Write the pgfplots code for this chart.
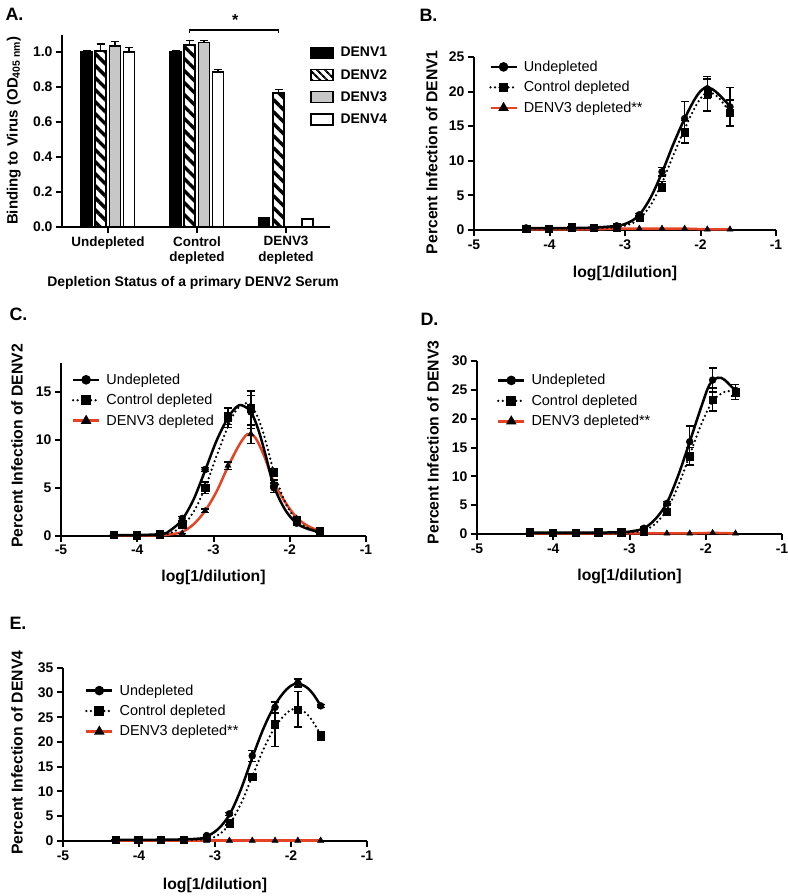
\documentclass[border=0pt]{standalone}
\usepackage{fontspec}
\setmainfont{Liberation Sans}
\usepackage{pgfplots}
\usepackage{pgfplotstable}
\pgfplotsset{compat=1.18}
\usetikzlibrary{patterns.meta}
\definecolor{dred}{RGB}{230,66,36}

\pgfplotstableread{
x u ue c ce r
-4.31 0.3 0 0.2 0 0.1
-4.01 0.2 0 0.2 0 0.1
-3.71 0.4 0 0.4 0 0.1
-3.41 0.3 0 0.3 0 0.1
-3.11 0.6 0 0.4 0 0.2
-2.81 2.2 0.2 1.8 0.3 0.2
-2.51 8.4 0.6 6.3 0.7 0.2
-2.21 16.1 2.5 14.2 1.6 0.2
-1.91 20.4 1.4 19.7 2.5 0.1
-1.61 17.8 2.8 16.9 1.9 0.1
}\tabB
\pgfplotstableread{
x u ue c ce r re
-4.31 0.1 0 0.1 0 0.05 0
-4.01 0.1 0 0.05 0 0.05 0
-3.71 0.2 0 0.15 0 0.05 0
-3.41 1.8 0.2 1.2 0.3 0.25 0
-3.11 6.9 0.2 5.0 0.6 2.6 0.2
-2.81 12.2 0.6 12.3 1.0 7.3 0.4
-2.51 12.9 1.7 13.3 1.8 10.6 1.0
-2.21 5.0 0.5 6.6 0.4 5.5 0.3
-1.91 1.3 0.2 1.6 0.2 1.8 0.2
-1.61 0.4 0 0.5 0 0.5 0
}\tabC
\pgfplotstableread{
x u ue c ce r
-4.31 0.3 0 0.3 0 0.1
-4.01 0.2 0 0.2 0 0.1
-3.71 0.2 0 0.2 0 0.1
-3.41 0.3 0 0.3 0 0.1
-3.11 0.3 0 0.3 0 0.1
-2.81 1.0 0.2 0.5 0.2 0.1
-2.51 5.3 0.3 3.8 0.4 0.1
-2.21 16.0 2.7 13.5 1.5 0.1
-1.91 26.7 2.1 23.3 2.0 0.2
-1.61 24.9 1.0 24.6 1.3 0.1
}\tabD
\pgfplotstableread{
x u ue c ce r
-4.31 0.2 0 0.2 0 0.1
-4.01 0.2 0 0.2 0 0.1
-3.71 0.3 0 0.3 0 0.1
-3.41 0.3 0 0.3 0 0.1
-3.11 1.1 0.2 0.6 0.2 0.1
-2.81 5.5 0.3 3.6 0.4 0.1
-2.51 17.2 1.1 13.0 0.6 0.1
-2.21 27.0 1.1 23.6 4.5 0.1
-1.91 31.9 0.8 26.6 3.6 0.1
-1.61 27.3 0.3 21.2 0.8 0.1
}\tabE

\pgfplotsset{
  gp/.style={
    scale only axis,
    axis x line*=bottom, axis y line*=left,
    axis line style={line width=2bp},
    every tick/.style={black, line width=2bp},
    major tick length=6bp,
    tick align=outside,
    /pgf/number format/assume math mode=true,
    tick label style={font=\fontsize{14}{16}\bfseries},
    clip=false,
  },
  dil/.style={
    gp,
    xmin=-5, xmax=-1, xtick={-5,-4,-3,-2,-1}, ymin=0,
    xlabel={log[1/dilution]},
    legend style={draw=none, fill=none, font=\fontsize{14.5}{17}\selectfont, row sep=4.5bp, inner sep=0pt,
      /tikz/every odd column/.append style={column sep=4bp}},
    legend cell align=left,
    legend image code/.code={\draw[mark repeat=2,mark phase=2,#1] plot coordinates {(0bp,0bp) (13bp,0bp) (26bp,0bp)};},
  },
  ucurve/.style={black, line width=2.5bp, smooth, tension=0.55, forget plot},
  ccurve/.style={black, line width=2.5bp, dash pattern=on 0bp off 4.5bp, line cap=round, smooth, tension=0.55, forget plot},
  rcurve/.style={dred, line width=2.5bp, smooth, tension=0.55, forget plot},
  ebar/.style={error bars/.cd, y dir=both, y explicit, error bar style={line width=1.5bp, solid, black}, error mark options={rotate=90, mark size=4bp, line width=1.5bp, solid, black}},
  umark/.style={black, only marks, mark=*, mark size=3.5bp, forget plot},
  cmark/.style={black, only marks, mark=square*, mark size=3.6bp, forget plot},
  rmark/.style={black, only marks, mark=triangle*, mark size=3.6bp, forget plot},
  ulegend/.style={black, line width=2.5bp, mark=*, mark size=3.5bp},
  clegend/.style={black, line width=2.5bp, dash pattern=on 0bp off 4.5bp, line cap=round, mark=square*, mark size=3.6bp, mark options={solid}},
  rlegend/.style={dred, line width=2.5bp, mark=triangle*, mark size=3.6bp, mark options={black, fill=black}},
}
\newcommand{\lblfont}{\fontsize{15.8}{18}\bfseries}

\begin{document}
\begin{tikzpicture}
\useasboundingbox (0,0) rectangle (788bp,-896bp);

% ---------------- Panel A ----------------
\node[anchor=west, font=\fontsize{18}{20}\bfseries] at (2bp,-14bp) {A.};
\begin{axis}[gp, at={(62bp,-227bp)}, anchor=south west, width=268bp, height=192.5bp,
  xmin=-0.517, xmax=2.494, ymin=0, ymax=1.1,
  xtick={0,1,2}, xticklabels={Undepleted, Control\\depleted, DENV3\\depleted},
  xticklabel style={align=center, font=\fontsize{13.5}{15.5}\bfseries},
  ytick={0,0.2,0.4,0.6,0.8,1.0},
  yticklabel style={/pgf/number format/.cd, fixed, fixed zerofill, precision=1},
  ylabel={Binding to Virus (OD\textsubscript{405 nm})},
  xlabel={Depletion Status of a primary DENV2 Serum},
  ylabel style={at={(-0.18,0.5)}, anchor=center, font=\fontsize{15}{17}\bfseries},
  xlabel style={at={(0.489,-0.29)}, anchor=center, font=\fontsize{14}{16}\bfseries},
  legend style={at={(0.925,0.945)}, anchor=north west, draw=none, fill=none, font=\fontsize{14}{16}\bfseries, row sep=7bp, inner sep=0pt,
    /tikz/every odd column/.append style={column sep=5bp}},
  legend cell align=left,
  legend image code/.code={\draw[#1] (0bp,-5.5bp) rectangle (22bp,5.5bp);},
  ]
\addlegendimage{fill=black, draw=black, line width=1.5bp}
\addlegendentry{DENV1}
\addlegendimage{pattern={Lines[angle=-45,distance=6bp,line width=2.6bp]}, pattern color=black, draw=black, line width=1.5bp}
\addlegendentry{DENV2}
\addlegendimage{fill=black!22, draw=black, line width=1.5bp}
\addlegendentry{DENV3}
\addlegendimage{fill=white, draw=black, line width=1.5bp}
\addlegendentry{DENV4}

\addplot[ybar, bar shift=0pt, bar width=11bp, fill=black, draw=black, line width=1.5bp, forget plot,
  error bars/.cd, y dir=plus, y explicit, error bar style={line width=1.5bp}, error mark options={rotate=90, mark size=4bp, line width=1.5bp}]
  coordinates {(-0.24,1.0) +- (0,0.006) (0.76,1.0) +- (0,0.005) (1.755,0.055) +- (0,0)};
\addplot[ybar, bar shift=0pt, bar width=11bp, pattern={Lines[angle=-45,distance=8.5bp,line width=3.4bp]}, pattern color=black, draw=black, line width=1.5bp, forget plot,
  error bars/.cd, y dir=plus, y explicit, error bar style={line width=1.5bp}, error mark options={rotate=90, mark size=4bp, line width=1.5bp}]
  coordinates {(-0.082,1.005) +- (0,0.04) (0.918,1.04) +- (0,0.025) (1.918,0.765) +- (0,0.02)};
\addplot[ybar, bar shift=0pt, bar width=11bp, fill=black!22, draw=black, line width=1.5bp, forget plot,
  error bars/.cd, y dir=plus, y explicit, error bar style={line width=1.5bp}, error mark options={rotate=90, mark size=4bp, line width=1.5bp}]
  coordinates {(0.076,1.035) +- (0,0.025) (1.076,1.055) +- (0,0.012)};
\addplot[ybar, bar shift=0pt, bar width=11bp, fill=white, draw=black, line width=1.5bp, forget plot,
  error bars/.cd, y dir=plus, y explicit, error bar style={line width=1.5bp}, error mark options={rotate=90, mark size=4bp, line width=1.5bp}]
  coordinates {(0.234,1.0) +- (0,0.025) (1.234,0.885) +- (0,0.015) (2.24,0.045) +- (0,0)};
\draw[line width=1.5bp] (axis cs:0.918,1.108) -- (axis cs:0.918,1.126) -- (axis cs:1.918,1.126) -- (axis cs:1.918,1.108);
\node[font=\fontsize{16}{18}\bfseries] at (axis cs:1.43,1.185) {*};
\end{axis}

% ---------------- Panel B ----------------
\node[anchor=west, font=\fontsize{18}{20}\bfseries] at (416bp,-15bp) {B.};
\begin{axis}[dil, at={(474bp,-230bp)}, anchor=south west, width=302bp, height=173bp,
  ymax=25, ytick={0,5,10,15,20,25},
  ylabel={Percent Infection of DENV1},
  ylabel style={at={(-0.14,0.45)}, anchor=center, font=\lblfont},
  xlabel style={at={(0.5,-0.249)}, anchor=center, font=\lblfont},
  legend style={at={(0.05,0.99)}, anchor=north west},
  ]
\addlegendimage{ulegend}\addlegendentry{Undepleted}
\addlegendimage{clegend}\addlegendentry{Control depleted}
\addlegendimage{rlegend}\addlegendentry{DENV3 depleted**}
\addplot[rcurve, sharp plot] table[x=x, y=r] \tabB;
\addplot[ucurve] coordinates {(-4.31,0.25) (-3.9,0.28) (-3.5,0.32) (-3.11,0.6) (-2.95,1.1) (-2.81,2.2) (-2.66,4.7) (-2.51,8.3) (-2.36,12.4) (-2.21,16.1) (-2.06,19.2) (-1.95,20.5) (-1.85,20.4) (-1.75,19.5) (-1.61,17.9)};
\addplot[ccurve] coordinates {(-4.31,0.2) (-3.9,0.22) (-3.5,0.25) (-3.11,0.4) (-2.95,0.8) (-2.81,1.6) (-2.66,3.6) (-2.51,6.8) (-2.36,10.8) (-2.21,14.6) (-2.06,18.0) (-1.95,19.6) (-1.85,19.8) (-1.75,19.0) (-1.61,17.0)};
\addplot[rmark] table[x=x, y=r] \tabB;
\addplot[umark, ebar] table[x=x, y=u, y error=ue] \tabB;
\addplot[cmark, ebar] table[x=x, y=c, y error=ce] \tabB;
\end{axis}

% ---------------- Panel C ----------------
\node[anchor=west, font=\fontsize{18}{20}\bfseries] at (6bp,-314bp) {C.};
\begin{axis}[dil, at={(61bp,-535.7bp)}, anchor=south west, width=305bp, height=172.7bp,
  ymax=18, ytick={0,5,10,15},
  ylabel={Percent Infection of DENV2},
  ylabel style={at={(-0.144,0.52)}, anchor=center, font=\lblfont},
  xlabel style={at={(0.5,-0.239)}, anchor=center, font=\lblfont},
  legend style={at={(0.035,0.95)}, anchor=north west},
  ]
\addlegendimage{ulegend}\addlegendentry{Undepleted}
\addlegendimage{clegend}\addlegendentry{Control depleted}
\addlegendimage{rlegend}\addlegendentry{DENV3 depleted}
\addplot[rcurve] coordinates {(-4.31,0.02) (-3.71,0.05) (-3.56,0.15) (-3.41,0.4) (-3.26,1.2) (-3.11,2.6) (-2.96,4.6) (-2.81,7.2) (-2.66,9.5) (-2.55,10.6) (-2.45,10.2) (-2.33,8.2) (-2.21,5.6) (-2.06,3.5) (-1.91,1.9) (-1.76,1.0) (-1.61,0.5)};
\addplot[ucurve] coordinates {(-4.31,0.05) (-3.71,0.15) (-3.56,0.6) (-3.41,1.7) (-3.26,3.8) (-3.11,6.8) (-2.96,9.9) (-2.81,12.3) (-2.7,13.4) (-2.63,13.6) (-2.51,12.9) (-2.41,11.0) (-2.31,8.2) (-2.21,5.2) (-2.06,2.7) (-1.91,1.3) (-1.76,0.7) (-1.61,0.4)};
\addplot[ccurve] coordinates {(-4.31,0.05) (-3.71,0.1) (-3.56,0.3) (-3.41,1.0) (-3.26,2.5) (-3.11,5.0) (-2.96,8.3) (-2.81,11.4) (-2.7,13.1) (-2.58,13.8) (-2.51,13.6) (-2.41,12.2) (-2.31,9.7) (-2.21,6.7) (-2.06,3.5) (-1.91,1.6) (-1.76,0.8) (-1.61,0.4)};
\addplot[rmark, ebar] table[x=x, y=r, y error=re] \tabC;
\addplot[umark, ebar] table[x=x, y=u, y error=ue] \tabC;
\addplot[cmark, ebar] table[x=x, y=c, y error=ce] \tabC;
\end{axis}

% ---------------- Panel D ----------------
\node[anchor=west, font=\fontsize{18}{20}\bfseries] at (417bp,-319bp) {D.};
\begin{axis}[dil, at={(477bp,-534bp)}, anchor=south west, width=305bp, height=173bp,
  ymax=30, ytick={0,5,10,15,20,25,30},
  ylabel={Percent Infection of DENV3},
  ylabel style={at={(-0.144,0.53)}, anchor=center, font=\lblfont},
  xlabel style={at={(0.5,-0.247)}, anchor=center, font=\lblfont},
  legend style={at={(0.065,0.935)}, anchor=north west},
  ]
\addlegendimage{ulegend}\addlegendentry{Undepleted}
\addlegendimage{clegend}\addlegendentry{Control depleted}
\addlegendimage{rlegend}\addlegendentry{DENV3 depleted**}
\addplot[rcurve, sharp plot] table[x=x, y=r] \tabD;
\addplot[ucurve] coordinates {(-4.31,0.25) (-3.5,0.25) (-3.11,0.3) (-2.96,0.5) (-2.81,1.0) (-2.66,2.6) (-2.51,5.4) (-2.36,10.2) (-2.21,16.0) (-2.06,22.0) (-1.95,25.9) (-1.84,27.1) (-1.75,26.7) (-1.61,24.8)};
\addplot[ccurve] coordinates {(-4.31,0.2) (-3.5,0.2) (-3.11,0.2) (-2.96,0.3) (-2.81,0.6) (-2.66,1.8) (-2.51,4.2) (-2.36,8.4) (-2.21,13.7) (-2.06,19.0) (-1.91,23.0) (-1.76,24.6) (-1.61,24.8)};
\addplot[rmark] table[x=x, y=r] \tabD;
\addplot[umark, ebar] table[x=x, y=u, y error=ue] \tabD;
\addplot[cmark, ebar] table[x=x, y=c, y error=ce] \tabD;
\end{axis}

% ---------------- Panel E ----------------
\node[anchor=west, font=\fontsize{18}{20}\bfseries] at (6bp,-623bp) {E.};
\begin{axis}[dil, at={(63bp,-841bp)}, anchor=south west, width=304bp, height=173.3bp,
  ymax=35, ytick={0,5,10,15,20,25,30,35},
  ylabel={Percent Infection of DENV4},
  ylabel style={at={(-0.151,0.51)}, anchor=center, font=\lblfont},
  xlabel style={at={(0.5,-0.254)}, anchor=center, font=\lblfont},
  legend style={at={(0.072,0.915)}, anchor=north west},
  ]
\addlegendimage{ulegend}\addlegendentry{Undepleted}
\addlegendimage{clegend}\addlegendentry{Control depleted}
\addlegendimage{rlegend}\addlegendentry{DENV3 depleted**}
\addplot[rcurve, sharp plot] table[x=x, y=r] \tabE;
\addplot[ucurve] coordinates {(-4.31,0.2) (-3.5,0.3) (-3.2,0.5) (-3.11,0.9) (-2.96,2.4) (-2.81,5.3) (-2.66,10.4) (-2.51,16.8) (-2.36,22.8) (-2.21,27.5) (-2.06,30.6) (-1.93,31.8) (-1.8,31.1) (-1.7,29.5) (-1.61,27.3)};
\addplot[ccurve] coordinates {(-4.31,0.2) (-3.5,0.2) (-3.11,0.4) (-2.96,1.2) (-2.81,3.4) (-2.66,7.5) (-2.51,13.0) (-2.36,18.6) (-2.21,23.0) (-2.06,25.8) (-1.93,26.8) (-1.8,25.8) (-1.7,23.8) (-1.61,21.5)};
\addplot[rmark] table[x=x, y=r] \tabE;
\addplot[umark, ebar] table[x=x, y=u, y error=ue] \tabE;
\addplot[cmark, ebar] table[x=x, y=c, y error=ce] \tabE;
\end{axis}
\end{tikzpicture}
\end{document}
